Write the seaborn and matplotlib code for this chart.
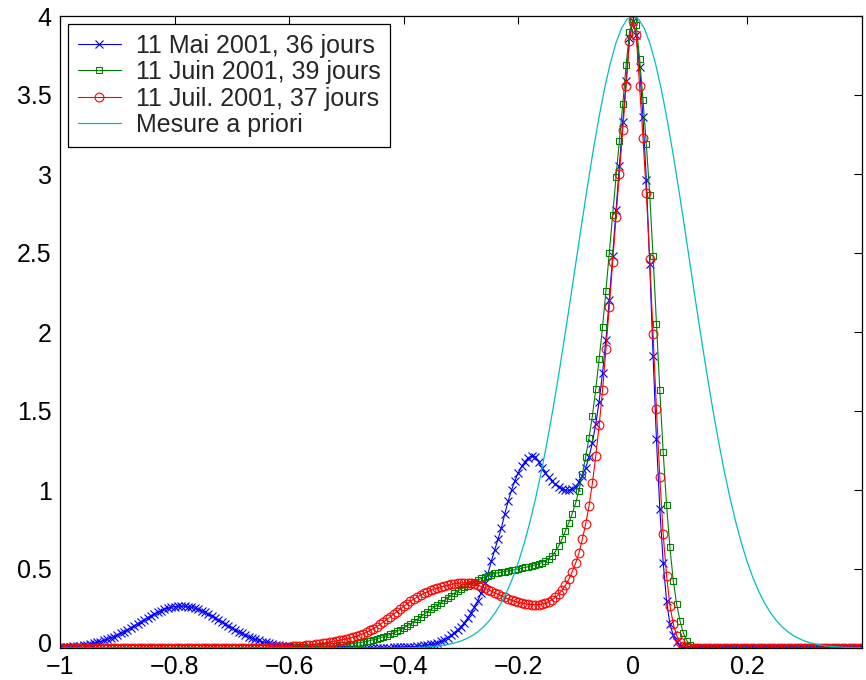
import numpy as np
import matplotlib
matplotlib.use("Agg")
import matplotlib.pyplot as plt
import matplotlib.transforms as mtransforms
import seaborn as sns

# Sampling grids: the three estimated densities share one grid (step 1/170),
# the prior is drawn on a 0.01 grid.
x_grid = np.linspace(-1.0, 0.4, 239)
x_prior = np.linspace(-1.0, 0.4, 141)

labels = ["11 Mai 2001, 36 jours", "11 Juin 2001, 39 jours",
          "11 Juil. 2001, 37 jours", "Mesure a priori"]

dens_mai = [
    0.004, 0.005, 0.006, 0.008, 0.010, 0.012, 0.014, 0.017, 0.021, 0.025,
    0.030, 0.035, 0.041, 0.048, 0.055, 0.063, 0.072, 0.082, 0.093, 0.104,
    0.115, 0.128, 0.140, 0.153, 0.166, 0.179, 0.192, 0.204, 0.215, 0.226,
    0.236, 0.244, 0.252, 0.257, 0.262, 0.264, 0.265, 0.264, 0.262, 0.257,
    0.252, 0.244, 0.236, 0.226, 0.215, 0.204, 0.192, 0.179, 0.166, 0.153,
    0.140, 0.128, 0.115, 0.104, 0.093, 0.082, 0.072, 0.063, 0.055, 0.048,
    0.041, 0.035, 0.030, 0.025, 0.021, 0.017, 0.014, 0.012, 0.010, 0.008,
    0.006, 0.005, 0.004, 0.003, 0.002, 0.002, 0.001, 0.001, 0.001, 0.001,
    0.001, 0.001, 0.001, 0.001, 0.001, 0.001, 0.001, 0.001, 0.001, 0.001,
    0.001, 0.001, 0.001, 0.002, 0.002, 0.002, 0.003, 0.003, 0.003, 0.004,
    0.004, 0.005, 0.006, 0.007, 0.008, 0.009, 0.011, 0.013, 0.016, 0.019,
    0.023, 0.027, 0.034, 0.042, 0.053, 0.065, 0.080, 0.095, 0.115, 0.135,
    0.160, 0.190, 0.220, 0.260, 0.300, 0.350, 0.410, 0.470, 0.550, 0.620,
    0.690, 0.760, 0.850, 0.930, 1.000, 1.060, 1.110, 1.150, 1.180, 1.205,
    1.215, 1.210, 1.180, 1.140, 1.110, 1.080, 1.055, 1.035, 1.020, 1.008,
    1.000, 0.998, 1.005, 1.020, 1.050, 1.090, 1.140, 1.210, 1.300, 1.420,
    1.560, 1.740, 1.950, 2.200, 2.480, 2.770, 3.050, 3.330, 3.590, 3.860,
    3.970, 3.880, 3.675, 3.360, 2.960, 2.430, 1.850, 1.320, 0.880, 0.540,
    0.300, 0.150, 0.080, 0.040, 0.015, 0.005, 0.002, 0.001, 0.000, 0.000,
    0.000, 0.000, 0.000, 0.000, 0.000, 0.000, 0.000, 0.000, 0.000, 0.000,
    0.000, 0.000, 0.000, 0.000, 0.000, 0.000, 0.000, 0.000, 0.000, 0.000,
    0.000, 0.000, 0.000, 0.000, 0.000, 0.000, 0.000, 0.000, 0.000, 0.000,
    0.000, 0.000, 0.000, 0.000, 0.000, 0.000, 0.000, 0.000, 0.000, 0.000,
    0.000, 0.000, 0.000, 0.000, 0.000, 0.000, 0.000, 0.000, 0.000,
]

dens_juin = [
    0.000, 0.000, 0.000, 0.000, 0.000, 0.000, 0.000, 0.000, 0.000, 0.000,
    0.000, 0.000, 0.000, 0.000, 0.000, 0.000, 0.000, 0.000, 0.000, 0.000,
    0.000, 0.000, 0.000, 0.000, 0.000, 0.000, 0.000, 0.000, 0.000, 0.000,
    0.000, 0.000, 0.000, 0.000, 0.000, 0.000, 0.000, 0.000, 0.000, 0.000,
    0.000, 0.000, 0.000, 0.000, 0.000, 0.000, 0.000, 0.000, 0.000, 0.000,
    0.000, 0.000, 0.000, 0.000, 0.000, 0.001, 0.001, 0.001, 0.001, 0.001,
    0.001, 0.001, 0.002, 0.002, 0.002, 0.002, 0.003, 0.003, 0.003, 0.003,
    0.004, 0.004, 0.005, 0.005, 0.006, 0.006, 0.007, 0.008, 0.009, 0.010,
    0.011, 0.013, 0.015, 0.017, 0.019, 0.022, 0.025, 0.028, 0.031, 0.034,
    0.038, 0.042, 0.047, 0.052, 0.058, 0.065, 0.071, 0.078, 0.086, 0.095,
    0.105, 0.116, 0.127, 0.139, 0.152, 0.165, 0.181, 0.197, 0.213, 0.230,
    0.244, 0.258, 0.271, 0.285, 0.301, 0.316, 0.331, 0.346, 0.359, 0.372,
    0.384, 0.395, 0.407, 0.418, 0.429, 0.440, 0.449, 0.457, 0.465, 0.472,
    0.476, 0.480, 0.484, 0.487, 0.491, 0.496, 0.500, 0.505, 0.510, 0.515,
    0.520, 0.526, 0.532, 0.540, 0.551, 0.565, 0.585, 0.610, 0.645, 0.690,
    0.742, 0.792, 0.850, 0.916, 0.996, 1.100, 1.210, 1.330, 1.470, 1.640,
    1.830, 2.030, 2.260, 2.500, 2.740, 2.980, 3.210, 3.440, 3.690, 3.900,
    3.980, 3.940, 3.730, 3.470, 3.190, 2.870, 2.480, 2.050, 1.630, 1.240,
    0.905, 0.637, 0.426, 0.278, 0.171, 0.093, 0.046, 0.020, 0.008, 0.003,
    0.001, 0.000, 0.000, 0.000, 0.000, 0.000, 0.000, 0.000, 0.000, 0.000,
    0.000, 0.000, 0.000, 0.000, 0.000, 0.000, 0.000, 0.000, 0.000, 0.000,
    0.000, 0.000, 0.000, 0.000, 0.000, 0.000, 0.000, 0.000, 0.000, 0.000,
    0.000, 0.000, 0.000, 0.000, 0.000, 0.000, 0.000, 0.000, 0.000, 0.000,
    0.000, 0.000, 0.000, 0.000, 0.000, 0.000, 0.000, 0.000, 0.000,
]

dens_juil = [
    0.000, 0.000, 0.000, 0.000, 0.000, 0.000, 0.000, 0.000, 0.000, 0.000,
    0.000, 0.000, 0.000, 0.000, 0.000, 0.000, 0.000, 0.000, 0.000, 0.000,
    0.000, 0.000, 0.000, 0.000, 0.000, 0.000, 0.000, 0.000, 0.000, 0.000,
    0.000, 0.000, 0.000, 0.000, 0.000, 0.000, 0.000, 0.000, 0.000, 0.000,
    0.000, 0.000, 0.000, 0.000, 0.000, 0.000, 0.000, 0.000, 0.000, 0.000,
    0.000, 0.000, 0.000, 0.000, 0.001, 0.001, 0.001, 0.001, 0.002, 0.002,
    0.002, 0.003, 0.003, 0.004, 0.005, 0.006, 0.007, 0.008, 0.009, 0.010,
    0.012, 0.013, 0.015, 0.017, 0.019, 0.022, 0.024, 0.027, 0.030, 0.034,
    0.038, 0.041, 0.045, 0.049, 0.053, 0.058, 0.063, 0.069, 0.075, 0.082,
    0.090, 0.100, 0.111, 0.123, 0.136, 0.150, 0.165, 0.181, 0.197, 0.214,
    0.230, 0.247, 0.263, 0.280, 0.295, 0.310, 0.323, 0.335, 0.346, 0.356,
    0.365, 0.373, 0.380, 0.386, 0.392, 0.398, 0.403, 0.407, 0.410, 0.412,
    0.413, 0.413, 0.410, 0.405, 0.398, 0.390, 0.380, 0.370, 0.360, 0.350,
    0.340, 0.330, 0.320, 0.310, 0.302, 0.295, 0.289, 0.284, 0.280, 0.277,
    0.275, 0.274, 0.275, 0.278, 0.284, 0.293, 0.305, 0.320, 0.340, 0.367,
    0.397, 0.435, 0.483, 0.536, 0.600, 0.688, 0.785, 0.900, 1.046, 1.215,
    1.410, 1.630, 1.890, 2.160, 2.440, 2.730, 3.000, 3.280, 3.560, 3.840,
    3.970, 3.880, 3.560, 3.230, 2.880, 2.460, 1.990, 1.510, 1.080, 0.720,
    0.458, 0.268, 0.152, 0.078, 0.040, 0.015, 0.006, 0.002, 0.000, 0.000,
    0.000, 0.000, 0.000, 0.000, 0.000, 0.000, 0.000, 0.000, 0.000, 0.000,
    0.000, 0.000, 0.000, 0.000, 0.000, 0.000, 0.000, 0.000, 0.000, 0.000,
    0.000, 0.000, 0.000, 0.000, 0.000, 0.000, 0.000, 0.000, 0.000, 0.000,
    0.000, 0.000, 0.000, 0.000, 0.000, 0.000, 0.000, 0.000, 0.000, 0.000,
    0.000, 0.000, 0.000, 0.000, 0.000, 0.000, 0.000, 0.000, 0.000,
]

dens_prior = [
    0.000, 0.000, 0.000, 0.000, 0.000, 0.000, 0.000, 0.000, 0.000, 0.000,
    0.000, 0.000, 0.000, 0.000, 0.000, 0.000, 0.000, 0.000, 0.000, 0.000,
    0.000, 0.000, 0.000, 0.000, 0.000, 0.000, 0.000, 0.000, 0.000, 0.000,
    0.000, 0.000, 0.000, 0.000, 0.000, 0.000, 0.000, 0.000, 0.000, 0.000,
    0.000, 0.000, 0.000, 0.000, 0.000, 0.000, 0.000, 0.000, 0.000, 0.000,
    0.000, 0.000, 0.000, 0.000, 0.000, 0.000, 0.000, 0.000, 0.000, 0.000,
    0.001, 0.002, 0.003, 0.004, 0.006, 0.009, 0.012, 0.017, 0.024, 0.033,
    0.044, 0.060, 0.079, 0.104, 0.136, 0.176, 0.225, 0.284, 0.356, 0.441,
    0.541, 0.658, 0.792, 0.943, 1.112, 1.299, 1.501, 1.718, 1.947, 2.184,
    2.426, 2.668, 2.905, 3.131, 3.341, 3.530, 3.692, 3.824, 3.921, 3.980,
    4.000,
    3.980, 3.921, 3.824, 3.692, 3.530, 3.341, 3.131, 2.905, 2.668, 2.426,
    2.184, 1.947, 1.718, 1.501, 1.299, 1.112, 0.943, 0.792, 0.658, 0.541,
    0.441, 0.356, 0.284, 0.225, 0.176, 0.136, 0.104, 0.079, 0.060, 0.044,
    0.033, 0.024, 0.017, 0.012, 0.009, 0.006, 0.004, 0.003, 0.002, 0.001,
]

x_ticks = [-1.0, -0.8, -0.6, -0.4, -0.2, 0.0, 0.2]
x_ticklabels = ["\u22121", "\u22120.8", "\u22120.6", "\u22120.4", "\u22120.2", "0", "0.2"]
y_ticks = [0, 0.5, 1, 1.5, 2, 2.5, 3, 3.5, 4]
y_ticklabels = ["0", "0.5", "1", "1.5", "2", "2.5", "3", "3.5", "4"]

sns.set_style("white")
plt.rcParams["font.family"] = ["Liberation Sans", "DejaVu Sans"]

fig = plt.figure(figsize=(8.66, 6.8), dpi=100)
ax = fig.add_axes([60 / 866, 32 / 680, 802 / 866, 632 / 680])

styles = [
    (dens_mai, "#0000ff", "x", 6.3),
    (dens_juin, "#008000", "s", 4.8),
    (dens_juil, "#ff0000", "o", 6.3),
]
for vals, col, mk, ms in styles:
    sns.lineplot(x=x_grid, y=vals, ax=ax, color=col, marker=mk,
                 markersize=ms, mfc="none", mec=col, mew=0.8, lw=0.8,
                 estimator=None, sort=False, label=None)
sns.lineplot(x=x_prior, y=dens_prior, ax=ax, color="#00bfbf", lw=0.9,
             estimator=None, sort=False, label=None)

ax.set_xlim(-1.0, 0.4)
ax.set_ylim(0, 4)
ax.set_xticks(x_ticks)
ax.set_xticklabels(x_ticklabels)
ax.set_yticks(y_ticks)
ax.set_yticklabels(y_ticklabels)
ax.set_xlabel("")
ax.set_ylabel("")
ax.tick_params(direction="in", top=True, right=True, length=6, width=0.8,
               labelsize=18, colors="black")
ax.tick_params(axis="x", pad=5)
ax.tick_params(axis="y", pad=6)
for sp in ax.spines.values():
    sp.set_visible(True)
    sp.set_color("black")
    sp.set_linewidth(0.9)

# lift the lowest y label a little so it clears the "-1" below it
zero_lbl = ax.yaxis.get_major_ticks()[0].label1
zero_lbl.set_transform(zero_lbl.get_transform()
                       + mtransforms.ScaledTranslation(0, 4 / 72, fig.dpi_scale_trans))

handles = ax.get_lines()
leg = ax.legend(handles, labels, loc="upper left",
                bbox_to_anchor=(0.01, 0.988), borderaxespad=0,
                frameon=True, fancybox=False, edgecolor="black",
                framealpha=1, fontsize=18, handlelength=1.7,
                handletextpad=0.6, labelspacing=0.1, borderpad=0.4,
                numpoints=1)
leg.get_frame().set_linewidth(0.9)

fig.savefig("out.png", dpi=100)
